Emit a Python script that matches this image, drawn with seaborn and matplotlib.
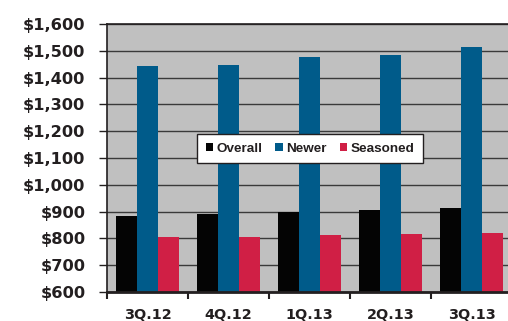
import matplotlib
matplotlib.use("Agg")
import matplotlib.pyplot as plt
import matplotlib.ticker as mticker
from matplotlib.patches import Patch
import seaborn as sns
import pandas as pd

quarters = ["3Q.12", "4Q.12", "1Q.13", "2Q.13", "3Q.13"]
series_names = ["Overall", "Newer", "Seasoned"]
overall = [885, 890, 897, 905, 913]
newer = [1443, 1447, 1476, 1484, 1514]
seasoned = [804, 806, 811, 817, 821]
colors = ["#040404", "#005b8a", "#d01f45"]

rows = []
for name, vals in zip(series_names, [overall, newer, seasoned]):
    for q, v in zip(quarters, vals):
        rows.append({"quarter": q, "series": name, "value": v})
df = pd.DataFrame(rows)

sns.set_style("white")
plt.rcParams["font.family"] = ["DejaVu Sans"]

fig = plt.figure(figsize=(5.08, 3.21), dpi=100)
ax = fig.add_axes([107/508, 29/321, 405/508, 268/321])
ax.set_facecolor("#c0c0c0")

sns.barplot(data=df, x="quarter", y="value", hue="series", order=quarters,
            hue_order=series_names, palette=colors, saturation=1, width=0.77,
            errorbar=None, ax=ax, legend=False, zorder=3, linewidth=0)

ax.set_ylim(600, 1600)
ax.set_xlim(-0.5, 4.5)
ax.yaxis.set_major_locator(mticker.MultipleLocator(100))
ax.yaxis.set_major_formatter(mticker.StrMethodFormatter("${x:,.0f}"))
ax.grid(axis="y", color="#3a3a3a", linewidth=1, zorder=1)
ax.set_axisbelow(True)
ax.set_xlabel("")
ax.set_ylabel("")

ax.set_xticks(range(len(quarters)))
ax.set_xticklabels(quarters, fontsize=10.4, fontweight="bold", color="#231f20")
ax.tick_params(axis="x", which="major", length=0, pad=11.5)
ax.set_xticks([i - 0.5 for i in range(len(quarters) + 1)], minor=True)
ax.tick_params(axis="x", which="minor", length=5, width=1.5, color="#231f20", direction="out", bottom=True)
ax.tick_params(axis="y", length=6, width=1, color="#231f20", direction="out", left=True, pad=9.5,
               labelsize=11.7)
for lab in ax.get_yticklabels():
    lab.set_fontweight("bold")
    lab.set_color("#231f20")

for s in ["left", "bottom", "top"]:
    ax.spines[s].set_visible(True)
    ax.spines[s].set_color("#231f20")
    ax.spines[s].set_zorder(5)
ax.spines["left"].set_linewidth(1.2)
ax.spines["bottom"].set_linewidth(2)
ax.spines["top"].set_linewidth(1.2)
ax.spines["right"].set_visible(False)

handles = [Patch(facecolor=c, edgecolor="none") for c in colors]
leg = fig.legend(handles, series_names, loc="center", bbox_to_anchor=(310/508, 1 - 148.5/321),
                 ncol=3, frameon=True, fancybox=False, handlelength=0.55, handleheight=0.55,
                 handletextpad=0.25, columnspacing=0.95, borderpad=0.65,
                 prop={"family": "Liberation Sans", "weight": "bold", "size": 9.7})
leg.get_frame().set_edgecolor("#231f20")
leg.get_frame().set_linewidth(1)
leg.get_frame().set_facecolor("white")
leg.get_frame().set_alpha(1)
for t in leg.get_texts():
    t.set_color("#231f20")

fig.savefig("out.png", dpi=100)
